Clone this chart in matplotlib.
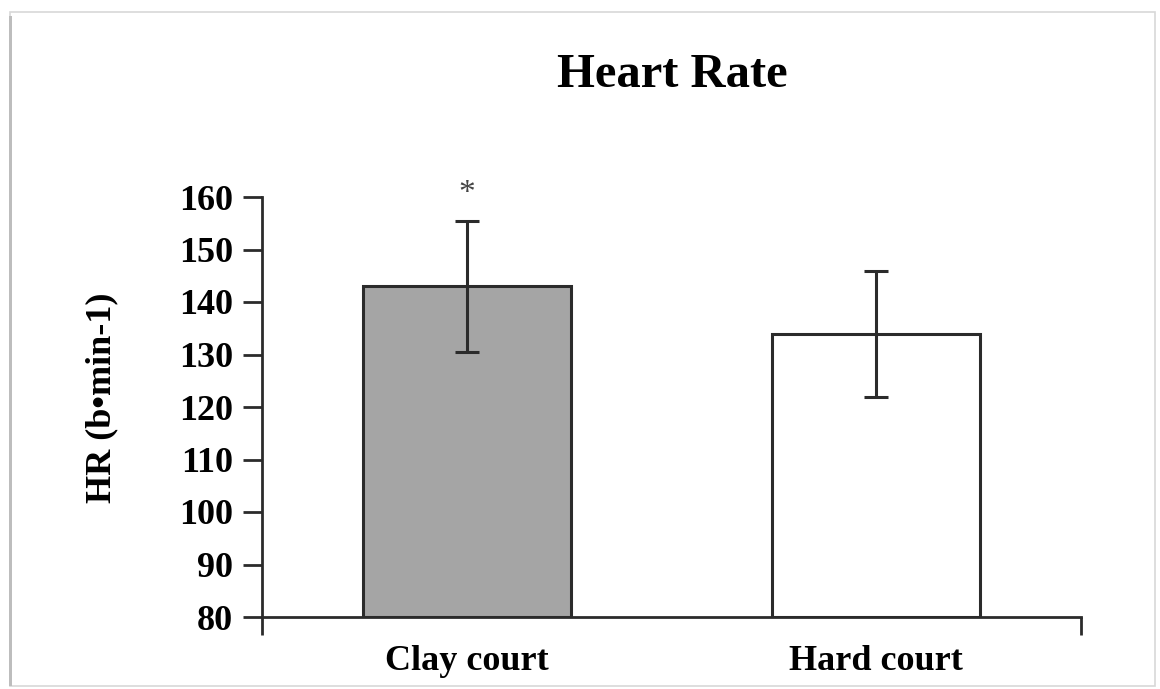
import matplotlib.pyplot as plt
from matplotlib.patches import Rectangle

courts = ['Clay court', 'Hard court']
hr_mean = [143, 134]
hr_sd = [12.5, 12]
bar_colors = ['#a5a5a5', '#ffffff']
y_ticks = [80, 90, 100, 110, 120, 130, 140, 150, 160]

plt.rcParams['font.family'] = ['Liberation Serif', 'DejaVu Serif']
plt.rcParams['font.weight'] = 'bold'

fig = plt.figure(figsize=(11.6, 6.89), dpi=100)
ax = fig.add_axes([262/1160, 1-617/689, 819/1160, (617-197)/689])

xs = [0.5, 1.5]
ax.bar(xs, [m - 80 for m in hr_mean], bottom=80, width=0.508,
       color=bar_colors, edgecolor='#2b2b2b', linewidth=2.2, zorder=2)
ax.errorbar(xs, hr_mean, yerr=hr_sd, fmt='none', ecolor='#2b2b2b',
            elinewidth=2.2, capsize=8.6, capthick=2.2, zorder=3)
ax.text(xs[0], hr_mean[0] + hr_sd[0] + 5.2, '*', ha='center', va='center',
        fontsize=24, color='#444444', fontweight='normal', clip_on=False)

ax.set_xlim(0, 2)
ax.set_ylim(80, 160)
ax.set_yticks(y_ticks)
ax.set_xticks(xs)
ax.set_xticklabels(courts, fontsize=26, fontweight='bold')
ax.set_xticks([0, 2], minor=True)
ax.tick_params(axis='x', which='major', length=0, pad=20)
ax.tick_params(axis='x', which='minor', length=13, width=2, color='#2b2b2b', direction='out')
ax.tick_params(axis='y', length=14, width=2, color='#2b2b2b', direction='out',
               labelsize=26, pad=7)
for lab in ax.get_yticklabels():
    lab.set_fontweight('bold')

for s in ['top', 'right']:
    ax.spines[s].set_visible(False)
for s in ['left', 'bottom']:
    ax.spines[s].set_linewidth(2)
    ax.spines[s].set_color('#2b2b2b')

ax.set_ylabel('HR (b\u2022min-1)', fontsize=26, fontweight='bold')
ax.yaxis.set_label_coords(118/1160, 1-398/689, transform=fig.transFigure)
fig.text(672/1160, 1-75/689, 'Heart Rate', ha='center', va='center',
         fontsize=35, fontweight='bold')

# frame around the picture
fig.patches.append(Rectangle((10/1160, 3/689), 1145/1160, 674/689,
                             transform=fig.transFigure, fill=False,
                             edgecolor='#d8d8d8', linewidth=1.2))
fig.patches.append(Rectangle((9/1160, 3/689), 3/1160, 670/689,
                             transform=fig.transFigure, facecolor='#bdbdbd',
                             edgecolor='none'))

fig.savefig('out.png', dpi=100)
